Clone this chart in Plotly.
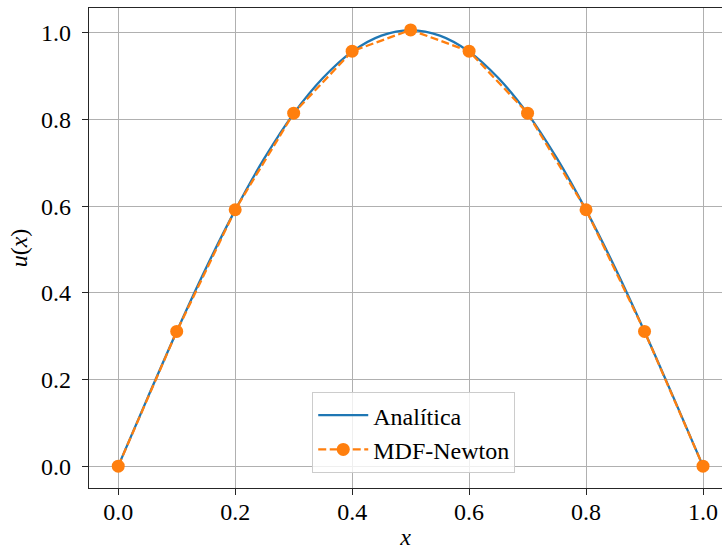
import plotly.graph_objects as go

# Data
x_analytic = [0.0, 0.05, 0.1, 0.15, 0.2, 0.25, 0.3, 0.35, 0.4, 0.45, 0.5,
              0.55, 0.6, 0.65, 0.7, 0.75, 0.8, 0.85, 0.9, 0.95, 1.0]
u_analytic = [0.0, 0.157, 0.311, 0.457, 0.591, 0.711, 0.814, 0.896, 0.957, 0.994, 1.006,
              0.994, 0.957, 0.896, 0.814, 0.711, 0.591, 0.457, 0.311, 0.157, 0.0]

x_mdf = [0.0, 0.1, 0.2, 0.3, 0.4, 0.5, 0.6, 0.7, 0.8, 0.9, 1.0]
u_mdf = [0.0, 0.311, 0.592, 0.815, 0.958, 1.007, 0.958, 0.815, 0.592, 0.311, 0.0]

tick_vals = [0.0, 0.2, 0.4, 0.6, 0.8, 1.0]
tick_text = ["0.0", "0.2", "0.4", "0.6", "0.8", "1.0"]

FONT = "Liberation Serif, DejaVu Serif, serif"

fig = go.Figure()
fig.add_trace(go.Scatter(
    x=x_analytic, y=u_analytic, mode="lines", name="Analítica",
    line=dict(color="#1f77b4", width=2.3, shape="spline"),
))
fig.add_trace(go.Scatter(
    x=x_mdf, y=u_mdf, mode="lines+markers", name="MDF-Newton",
    line=dict(color="#ff7f0e", width=2.3, dash="8px,3.5px"),
    marker=dict(color="#ff7f0e", size=13),
))

axis_common = dict(
    showgrid=True, gridcolor="#b0b0b0", gridwidth=1,
    zeroline=False, showline=True, linecolor="#262626", linewidth=1.3,
    ticks="outside", ticklen=6, tickwidth=1.2, tickcolor="#262626",
    tickfont=dict(family=FONT, size=24, color="#000000"),
    tickvals=tick_vals, ticktext=tick_text,
    ticklabeloverflow="allow",
)

fig.update_layout(
    width=722, height=550,
    margin=dict(l=88.5, r=0, t=8, b=62, autoexpand=False),
    paper_bgcolor="white", plot_bgcolor="white",
    showlegend=True,
    legend=dict(
        x=0.513, y=0.031, xanchor="center", yanchor="bottom",
        bgcolor="rgba(255,255,255,0.8)", bordercolor="#cccccc", borderwidth=1,
        font=dict(family=FONT, size=24, color="#000000"),
        itemwidth=50,
    ),
    xaxis=dict(range=[-0.05, 1.0325], mirror=True, ticklabelstandoff=-4,
               title=dict(text="<i>x</i>", font=dict(family=FONT, size=24, color="#000000"), standoff=6),
               **axis_common),
    yaxis=dict(range=[-0.0504, 1.0577], mirror=False, ticklabelstandoff=6,
               title=dict(text="<i>u</i>(<i>x</i>)", font=dict(family=FONT, size=24, color="#000000"), standoff=6),
               **axis_common),
)

fig.write_html(
    "out.html",
    config={"displayModeBar": False},
    post_script="document.body.style.margin='0';document.body.style.overflow='hidden';",
)
